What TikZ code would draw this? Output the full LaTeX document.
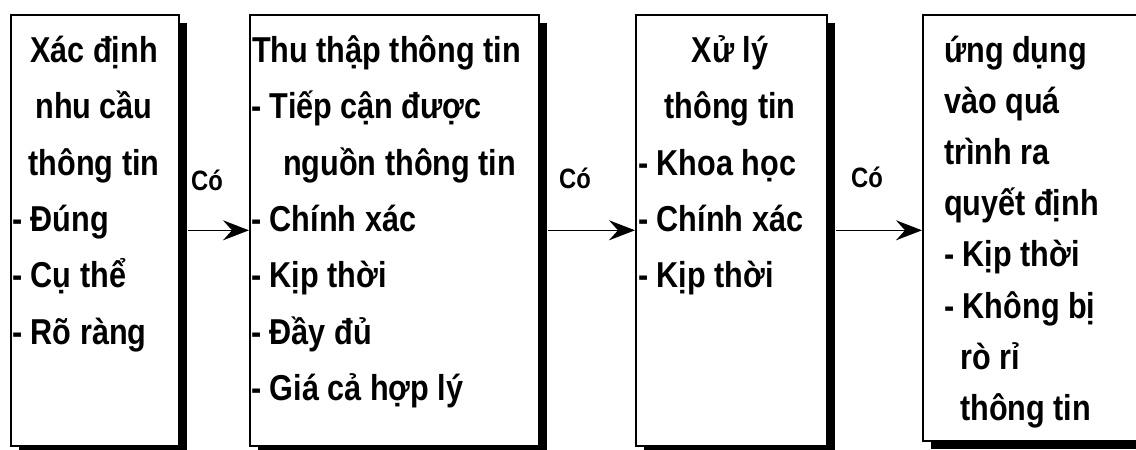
\documentclass[tikz,border=0pt]{standalone}
\usepackage{fontspec}
\newfontfamily\diagfont{Liberation Sans}[FakeStretch=0.85]
\usetikzlibrary{arrows.meta,shadows}
\begin{document}
\begin{tikzpicture}[x=1pt,y=-1pt,
  boxst/.style={draw=black,line width=1.6pt,fill=white,anchor=north west,inner sep=0pt,
    drop shadow={shadow xshift=8pt,shadow yshift=-8pt,fill=black,opacity=1}},
  lbl/.style={font=\diagfont\bfseries\fontsize{36}{40}\selectfont,inner sep=0pt},
  cst/.style={lbl,anchor=base},
  lst/.style={lbl,anchor=base west},
  yes/.style={font=\diagfont\bfseries\fontsize{28}{30}\selectfont,inner sep=0pt,anchor=base},
  arr/.style={line width=1.5pt,-{Stealth[length=26pt,width=20pt,inset=9pt]}}]
\clip (0,0) rectangle (1136,450);
\fill[white] (0,0) rectangle (1136,450);
% boxes
\node[boxst,minimum width=168pt,minimum height=431pt] (b1) at (10,14) {};
\node[boxst,minimum width=289pt,minimum height=431pt] (b2) at (249,14) {};
\node[boxst,minimum width=191pt,minimum height=431pt] (b3) at (635,14) {};
\node[boxst,minimum width=240pt,minimum height=426pt] (b4) at (922,14) {};
% box 1 text
\node[cst] (t11) at (94,62) {Xác định};
\node[cst] (t12) at (94,118) {nhu cầu};
\node[cst] (t13) at (94,175) {thông tin};
\node[lst] (t14) at (12,231) {- Đúng};
\node[lst] (t15) at (12,287) {- Cụ thể};
\node[lst] (t16) at (12,344) {- Rõ ràng};
% box 2 text
\node[lst] (t21) at (252,62) {Thu thập thông tin};
\node[lst] (t22) at (251,118) {- Tiếp cận được};
\node[lst] (t23) at (283,175) {nguồn thông tin};
\node[lst] (t24) at (251,231) {- Chính xác};
\node[lst] (t25) at (251,287) {- Kịp thời};
\node[lst] (t26) at (251,344) {- Đầy đủ};
\node[lst] (t27) at (251,400) {- Giá cả hợp lý};
% box 3 text
\node[cst] (t31) at (730,62) {Xử lý};
\node[cst] (t32) at (730,118) {thông tin};
\node[lst] (t33) at (638,175) {- Khoa học};
\node[lst] (t34) at (638,231) {- Chính xác};
\node[lst] (t35) at (638,287) {- Kịp thời};
% box 4 text
\node[lst] (t41) at (944,62) {ứng dụng};
\node[lst] (t42) at (944,113) {vào quá};
\node[lst] (t43) at (944,164) {trình ra};
\node[lst] (t44) at (944,215) {quyết định};
\node[lst] (t45) at (944,266) {- Kịp thời};
\node[lst] (t46) at (944,318) {- Không bị};
\node[lst] (t47) at (960,369) {rò rỉ};
\node[lst] (t48) at (960,420) {thông tin};
% connectors
\draw[arr] ([xshift=8pt]b1.east |- b1.east) -- (b2.west);
\draw[arr] ([xshift=8pt]b2.east) -- (b3.west);
\draw[arr] ([xshift=8pt]b3.east) -- (b4.west |- b3.east);
\node[yes] (c1) at (207,190) {Có};
\node[yes] (c2) at (575,188) {Có};
\node[yes] (c3) at (867,187) {Có};
\end{tikzpicture}
\end{document}
